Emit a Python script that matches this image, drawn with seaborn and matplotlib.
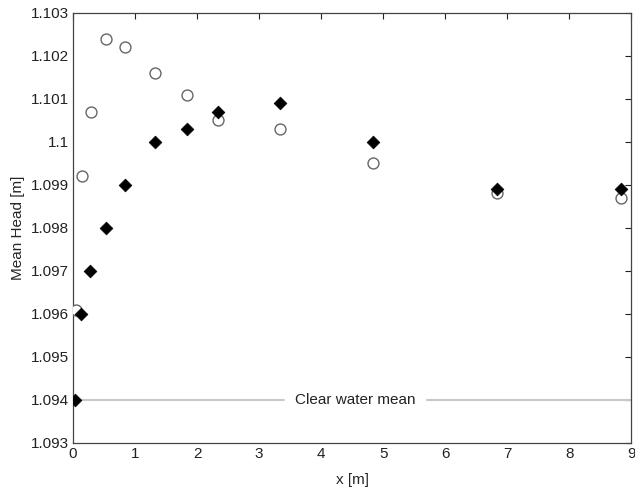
import numpy as np
import pandas as pd
import matplotlib
matplotlib.use("Agg")
import matplotlib.pyplot as plt
import seaborn as sns
from matplotlib.ticker import FuncFormatter, MultipleLocator

# data
x_pos = [0.05, 0.15, 0.29, 0.53, 0.84, 1.32, 1.84, 2.34, 3.34, 4.84, 6.84, 8.84]
head_circle = [1.0961, 1.0992, 1.1007, 1.1024, 1.1022, 1.1016, 1.1011,
               1.1005, 1.1003, 1.0995, 1.0988, 1.0987]
x_diamond = [0.03, 0.13, 0.27, 0.53, 0.84, 1.32, 1.84, 2.34, 3.34, 4.84, 6.84, 8.84]
head_diamond = [1.0940, 1.0960, 1.0970, 1.0980, 1.0990, 1.1000, 1.1003,
                1.1007, 1.1009, 1.1000, 1.0989, 1.0989]
clear_water_mean = 1.094

sns.set_theme(style="white")
plt.rcParams['font.family'] = ['Liberation Sans', 'DejaVu Sans']

fig = plt.figure(figsize=(6.35, 4.97), dpi=100)
ax = fig.add_axes([0.115, 0.109, 0.879, 0.865])

# clear water reference line with a gap for its label
ax.plot([0, 3.4], [clear_water_mean] * 2, color='#c8c8c8', lw=1.5, zorder=1)
ax.plot([5.7, 9], [clear_water_mean] * 2, color='#c8c8c8', lw=1.5, zorder=1)
ax.text(4.55, clear_water_mean, 'Clear water mean', ha='center', va='center',
        fontsize=11, color='#222222')

df_c = pd.DataFrame({'x': x_pos, 'y': head_circle})
df_d = pd.DataFrame({'x': x_diamond, 'y': head_diamond})
sns.scatterplot(data=df_c, x='x', y='y', ax=ax, marker='o', s=62,
                facecolor='white', edgecolor='#666666', linewidth=1.0, zorder=3)
sns.scatterplot(data=df_d, x='x', y='y', ax=ax, marker='D', s=42,
                color='black', edgecolor='black', zorder=4)

ax.set_xlim(0, 9)
ax.set_ylim(1.093, 1.103)
ax.xaxis.set_major_locator(MultipleLocator(1))
ax.yaxis.set_major_locator(MultipleLocator(0.001))
ax.yaxis.set_major_formatter(FuncFormatter(
    lambda v, p: f'{v:.3f}'.rstrip('0').rstrip('.')))
ax.tick_params(direction='in', top=True, right=True, length=4, width=0.8,
               labelsize=11, colors='#222222', pad=3)
for s in ax.spines.values():
    s.set_color('#444444')
    s.set_linewidth(0.9)
ax.set_xlabel('x [m]', fontsize=11, labelpad=9)
ax.set_ylabel('Mean Head [m]', fontsize=11, labelpad=4)

fig.savefig('out.png', dpi=100)
